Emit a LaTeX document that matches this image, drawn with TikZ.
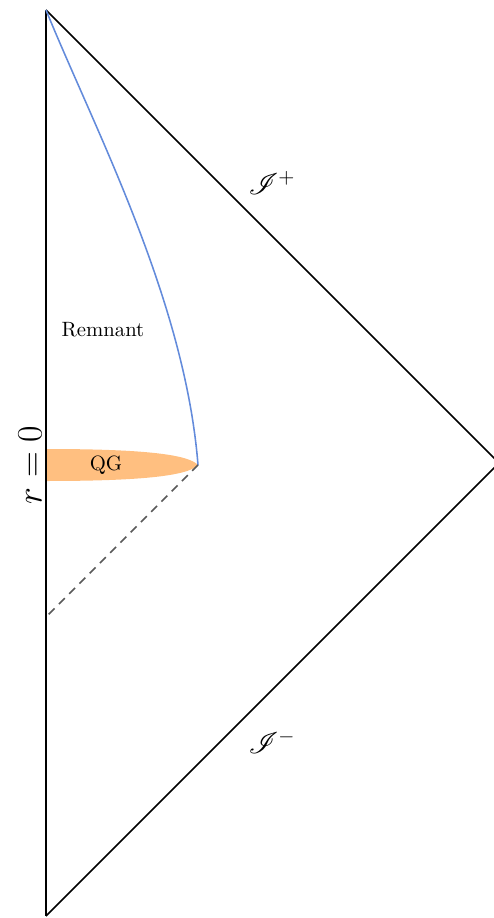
\documentclass[tikz,border=0pt]{standalone}
\usepackage{mathrsfs}
\begin{document}
\begin{tikzpicture}[x=0.4831pt,y=-0.4831pt,
  edge/.style={line width=0.8pt,black},
  remcurve/.style={line width=0.75pt,color={rgb,255:red,99;green,139;blue,219}},
  nullray/.style={line width=0.75pt,black!65,dash pattern=on 4pt off 3pt},
  qgblob/.style={fill=orange!50,draw=none},
  lbl/.style={inner sep=0pt}]
\useasboundingbox (0,0) rectangle (493,918);
\coordinate (T) at (46,10);
\coordinate (R) at (499,463);
\coordinate (B) at (46,916);
\coordinate (E) at (198,465);
\coordinate (H) at (46,617);
% QG region
\path[qgblob] (46,449) .. controls (140,449) and (188,454) .. (E)
  .. controls (188,476) and (140,481) .. (46,481) -- cycle;
% Penrose boundary
\draw[edge] (T) -- (B);
\draw[edge] (T) -- (R) -- (B);
% remnant worldline
\draw[remcurve] (T) .. controls (95,130) and (185,300) .. (E);
% dashed
\draw[nullray] (E) -- (H);
% labels
\node[lbl] (scrp) at (272,183) {\Large $\mathscr{I}^+$};
\node[lbl] (scrm) at (272,742) {\Large $\mathscr{I}^-$};
\node[lbl] (rem) at (103,330) {Remnant};
\node[lbl] (qg) at (106,465) {QG};
\node[lbl,rotate=90] (r0) at (30,465) {\fontsize{16}{19}\selectfont $r=0$};
\end{tikzpicture}
\end{document}
